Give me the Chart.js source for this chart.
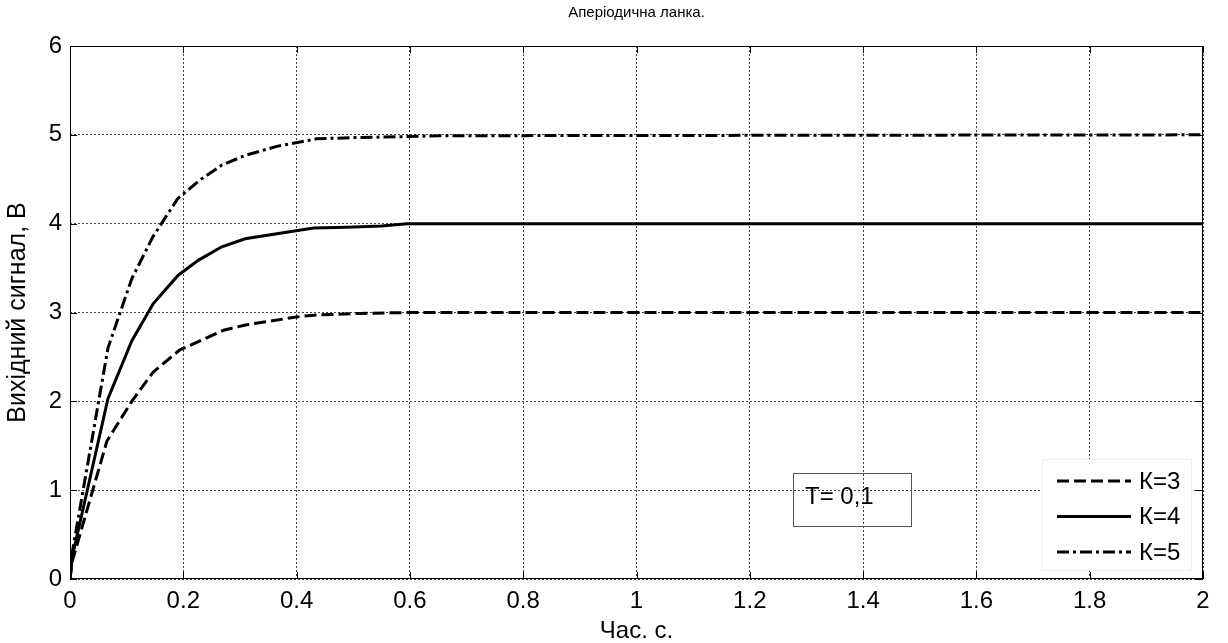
<!DOCTYPE html>
<html>
<head>
<meta charset="utf-8">
<title>Аперіодична ланка</title>
<script src="https://cdn.jsdelivr.net/npm/chart.js@4.4.1/dist/chart.umd.min.js"></script>
<style>
    html, body { margin: 0; padding: 0; background: #fff; }
    #wrap { width: 1228px; height: 643px; }
</style>
</head>
<body>
<div id="wrap"><canvas id="chart-step" width="1228" height="643"></canvas></div>
<script>
// values (solver steps, not a formula)
const timeK3 = [0, 0.004, 0.065, 0.109, 0.147, 0.194, 0.271, 0.31, 0.40, 0.43, 0.512, 0.6, 2];
const outK3 = [0, 0.2, 1.55, 2.0, 2.33, 2.58, 2.8, 2.86, 2.95, 2.97, 2.99, 3.0, 3.0];

const timeK4 = [0, 0.004, 0.067, 0.109, 0.147, 0.191, 0.227, 0.268, 0.309, 0.43, 0.488, 0.55, 0.595, 2];
const outK4 = [0, 0.25, 2.03, 2.68, 3.1, 3.42, 3.59, 3.74, 3.83, 3.95, 3.96, 3.975, 4.0, 4.0];

const timeK5 = [0, 0.004, 0.067, 0.109, 0.147, 0.19, 0.229, 0.268, 0.31, 0.365, 0.406, 0.435, 0.506, 0.594, 0.653, 2];
const outK5 = [0, 0.3, 2.6, 3.38, 3.86, 4.28, 4.49, 4.66, 4.77, 4.87, 4.92, 4.955, 4.97, 4.98, 4.99, 5.0];

const seriesLabels = ['К=3', 'К=4', 'К=5'];
const xTickValues = [0, 0.2, 0.4, 0.6, 0.8, 1, 1.2, 1.4, 1.6, 1.8, 2];
const xTickLabels = ['0', '0.2', '0.4', '0.6', '0.8', '1', '1.2', '1.4', '1.6', '1.8', '2'];
const yTickValues = [0, 1, 2, 3, 4, 5, 6];
const yTickLabels = ['0', '1', '2', '3', '4', '5', '6'];
const noteText = 'T= 0,1';

const FONT = 'Arial, "Liberation Sans", Helvetica, sans-serif';

const toPoints = (xs, ys) => xs.map((t, i) => ({ x: t, y: ys[i] }));

// frame, inner tick marks, legend box and the T note
const framePlugin = {
    id: 'frame',
    afterDraw(chart) {
        const { ctx, chartArea: a, scales: { x, y } } = chart;
        ctx.save();
        ctx.strokeStyle = '#000';
        ctx.lineWidth = 1;
        ctx.setLineDash([]);
        ctx.strokeRect(a.left + 0.5, a.top + 0.5, a.right - a.left - 1, a.bottom - a.top - 1);

        const tl = 7;
        ctx.beginPath();
        xTickValues.forEach(v => {
            const px = Math.round(x.getPixelForValue(v)) + 0.5;
            ctx.moveTo(px, a.bottom); ctx.lineTo(px, a.bottom - tl);
            ctx.moveTo(px, a.top); ctx.lineTo(px, a.top + tl);
        });
        yTickValues.forEach(v => {
            const py = Math.round(y.getPixelForValue(v)) + 0.5;
            ctx.moveTo(a.left, py); ctx.lineTo(a.left + tl, py);
            ctx.moveTo(a.right, py); ctx.lineTo(a.right - tl, py);
        });
        ctx.stroke();

        // note box
        const nx = a.left + 723, ny = a.top + 427;
        ctx.strokeStyle = '#555';
        ctx.strokeRect(nx + 0.5, ny + 0.5, 118, 53);
        ctx.fillStyle = '#000';
        ctx.font = '24px ' + FONT;
        ctx.textBaseline = 'middle';
        ctx.textAlign = 'left';
        ctx.fillText(noteText, nx + 12, ny + 24);

        // legend
        const lx = a.right - 161, ly = a.top + 413, lw = 149, lh = 111;
        ctx.fillStyle = '#fff';
        ctx.fillRect(lx, ly, lw, lh);
        ctx.strokeStyle = '#eee';
        ctx.strokeRect(lx + 0.5, ly + 0.5, lw, lh);
        chart.data.datasets.forEach((ds, i) => {
            const ry = ly + 22 + i * 35.5;
            ctx.strokeStyle = ds.borderColor;
            ctx.lineWidth = ds.borderWidth;
            ctx.setLineDash(ds.borderDash || []);
            ctx.beginPath();
            ctx.moveTo(lx + 15, ry);
            ctx.lineTo(lx + 89, ry);
            ctx.stroke();
            ctx.setLineDash([]);
            ctx.fillStyle = '#000';
            ctx.font = '24px ' + FONT;
            ctx.fillText(ds.label, lx + 97, ry + 1);
        });
        ctx.restore();
    }
};

const ctx = document.getElementById('chart-step').getContext('2d');
new Chart(ctx, {
    type: 'line',
    data: {
        datasets: [
            {
                label: seriesLabels[0],
                data: toPoints(timeK3, outK3),
                borderColor: '#000',
                borderWidth: 3,
                borderDash: [12, 5],
                pointRadius: 0,
                tension: 0,
                fill: false
            },
            {
                label: seriesLabels[1],
                data: toPoints(timeK4, outK4),
                borderColor: '#000',
                borderWidth: 3,
                pointRadius: 0,
                tension: 0,
                fill: false
            },
            {
                label: seriesLabels[2],
                data: toPoints(timeK5, outK5),
                borderColor: '#000',
                borderWidth: 3,
                borderDash: [12, 4, 3, 4],
                pointRadius: 0,
                tension: 0,
                fill: false
            }
        ]
    },
    options: {
        responsive: false,
        animation: false,
        devicePixelRatio: 1,
        layout: { padding: { top: 0, right: 25, left: 0, bottom: 0 } },
        plugins: {
            legend: { display: false },
            tooltip: { enabled: false },
            title: {
                display: true,
                text: 'Аперіодична ланка.',
                fullSize: false,
                color: '#000',
                font: { family: FONT, size: 15, weight: 'normal' },
                padding: { top: 4, bottom: 24 }
            }
        },
        scales: {
            x: {
                type: 'linear',
                min: 0,
                max: 2,
                afterBuildTicks: (scale) => { scale.ticks = xTickValues.map(v => ({ value: v })); },
                afterFit: (scale) => { scale.height = 64; },
                ticks: {
                    color: '#000',
                    font: { family: FONT, size: 24 },
                    padding: 8,
                    maxRotation: 0,
                    autoSkip: false,
                    callback: (v, i) => xTickLabels[i]
                },
                grid: {
                    drawTicks: false,
                    color: 'rgba(0,0,0,0.75)',
                    lineWidth: 1
                },
                border: { display: false, dash: [2, 2] },
                title: {
                    display: true,
                    text: 'Час. с.',
                    color: '#000',
                    font: { family: FONT, size: 24, lineHeight: 0.8 },
                    padding: { top: 0, bottom: 2 }
                }
            },
            y: {
                type: 'linear',
                min: 0,
                max: 6,
                afterBuildTicks: (scale) => { scale.ticks = yTickValues.map(v => ({ value: v })); },
                afterFit: (scale) => { scale.width = 70; },
                ticks: {
                    color: '#000',
                    font: { family: FONT, size: 24 },
                    padding: 8,
                    autoSkip: false,
                    callback: (v, i) => yTickLabels[i]
                },
                grid: {
                    drawTicks: false,
                    color: 'rgba(0,0,0,0.75)',
                    lineWidth: 1
                },
                border: { display: false, dash: [2, 2] },
                title: {
                    display: true,
                    text: 'Вихідний сигнал, В',
                    color: '#000',
                    font: { family: FONT, size: 25, lineHeight: 1 },
                    padding: { top: 6, bottom: 0 }
                }
            }
        }
    },
    plugins: [framePlugin]
});
</script>
</body>
</html>
